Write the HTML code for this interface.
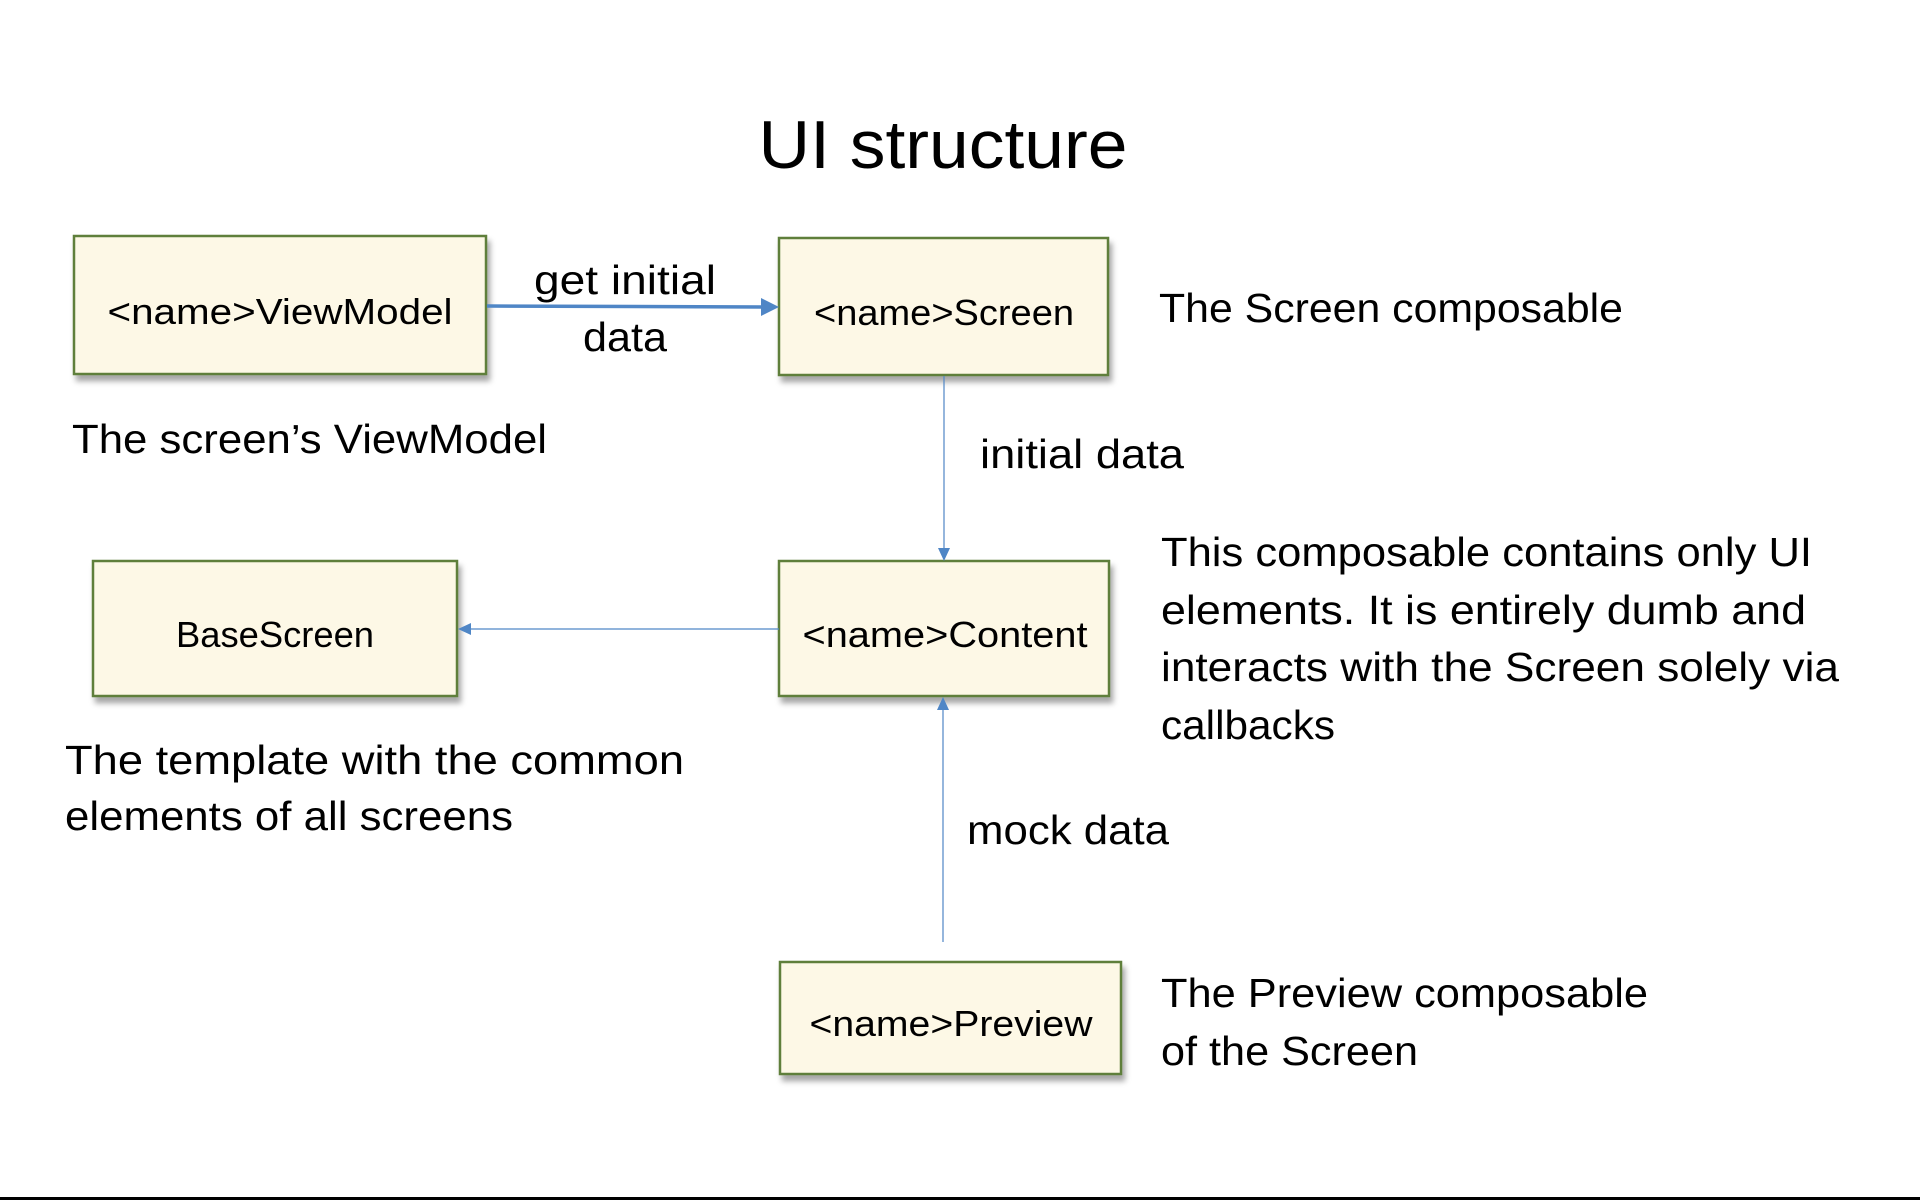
<!DOCTYPE html>
<html><head><meta charset="utf-8"><style>
html,body{margin:0;padding:0;background:#fff;}
svg{display:block;}
text{font-family:"Liberation Sans",sans-serif;fill:#000;}
</style></head><body>
<svg width="1920" height="1200" viewBox="0 0 1920 1200" xmlns="http://www.w3.org/2000/svg">
<defs>
<filter id="sh" x="-10%" y="-10%" width="130%" height="140%">
<feDropShadow dx="3" dy="6" stdDeviation="3" flood-color="#000" flood-opacity="0.35"/>
</filter>
</defs>
<rect x="0" y="0" width="1920" height="1200" fill="#fff"/>
<text x="943" y="168" font-size="68" text-anchor="middle" textLength="369" lengthAdjust="spacingAndGlyphs">UI structure</text>

<g fill="#fdf8e6" stroke="#5f7f3a" stroke-width="2.5" filter="url(#sh)">
<rect x="74" y="236" width="412" height="138"/>
<rect x="779" y="238" width="329" height="137"/>
<rect x="779" y="561" width="330" height="135"/>
<rect x="93" y="561" width="364" height="135"/>
<rect x="780" y="962" width="341" height="112"/>
</g>

<g font-size="36">
<text x="280" y="324" text-anchor="middle" textLength="345" lengthAdjust="spacingAndGlyphs">&lt;name&gt;ViewModel</text>
<text x="944" y="325" text-anchor="middle" textLength="260" lengthAdjust="spacingAndGlyphs">&lt;name&gt;Screen</text>
<text x="945" y="647" text-anchor="middle" textLength="285" lengthAdjust="spacingAndGlyphs">&lt;name&gt;Content</text>
<text x="275" y="647" text-anchor="middle" textLength="198" lengthAdjust="spacingAndGlyphs">BaseScreen</text>
<text x="951" y="1036" text-anchor="middle" textLength="283" lengthAdjust="spacingAndGlyphs">&lt;name&gt;Preview</text>
</g>

<g stroke="#4f86c6" fill="none">
<line x1="487" y1="306" x2="764" y2="307" stroke-width="3.5"/>
<line x1="944" y1="376" x2="944" y2="550" stroke-width="1.2"/>
<line x1="779" y1="629" x2="470" y2="629" stroke-width="1.2"/>
<line x1="943" y1="942" x2="943" y2="709" stroke-width="1.2"/>
</g>
<g fill="#4f86c6">
<polygon points="779,307 761,298 761,316"/>
<polygon points="944,561 938,548 950,548"/>
<polygon points="458,629 471,623 471,635"/>
<polygon points="943,697 937,710 949,710"/>
</g>

<g font-size="41">
<text x="625" y="294" text-anchor="middle" textLength="182" lengthAdjust="spacingAndGlyphs">get initial</text>
<text x="625" y="351" text-anchor="middle" textLength="84" lengthAdjust="spacingAndGlyphs">data</text>
<text x="1159" y="322" textLength="464" lengthAdjust="spacingAndGlyphs">The Screen composable</text>
<text x="72" y="453" textLength="475" lengthAdjust="spacingAndGlyphs">The screen’s ViewModel</text>
<text x="980" y="468" textLength="204" lengthAdjust="spacingAndGlyphs">initial data</text>
<text x="1161" y="566" textLength="651" lengthAdjust="spacingAndGlyphs">This composable contains only UI</text>
<text x="1161" y="624" textLength="645" lengthAdjust="spacingAndGlyphs">elements. It is entirely dumb and</text>
<text x="1161" y="681" textLength="678" lengthAdjust="spacingAndGlyphs">interacts with the Screen solely via</text>
<text x="1161" y="739" textLength="174" lengthAdjust="spacingAndGlyphs">callbacks</text>
<text x="65" y="774" textLength="619" lengthAdjust="spacingAndGlyphs">The template with the common</text>
<text x="65" y="830" textLength="448" lengthAdjust="spacingAndGlyphs">elements of all screens</text>
<text x="967" y="844" textLength="202" lengthAdjust="spacingAndGlyphs">mock data</text>
<text x="1161" y="1007" textLength="487" lengthAdjust="spacingAndGlyphs">The Preview composable</text>
<text x="1161" y="1065" textLength="257" lengthAdjust="spacingAndGlyphs">of the Screen</text>
</g>

<rect x="0" y="1197" width="1920" height="3" fill="#000"/>
</svg>
</body></html>
